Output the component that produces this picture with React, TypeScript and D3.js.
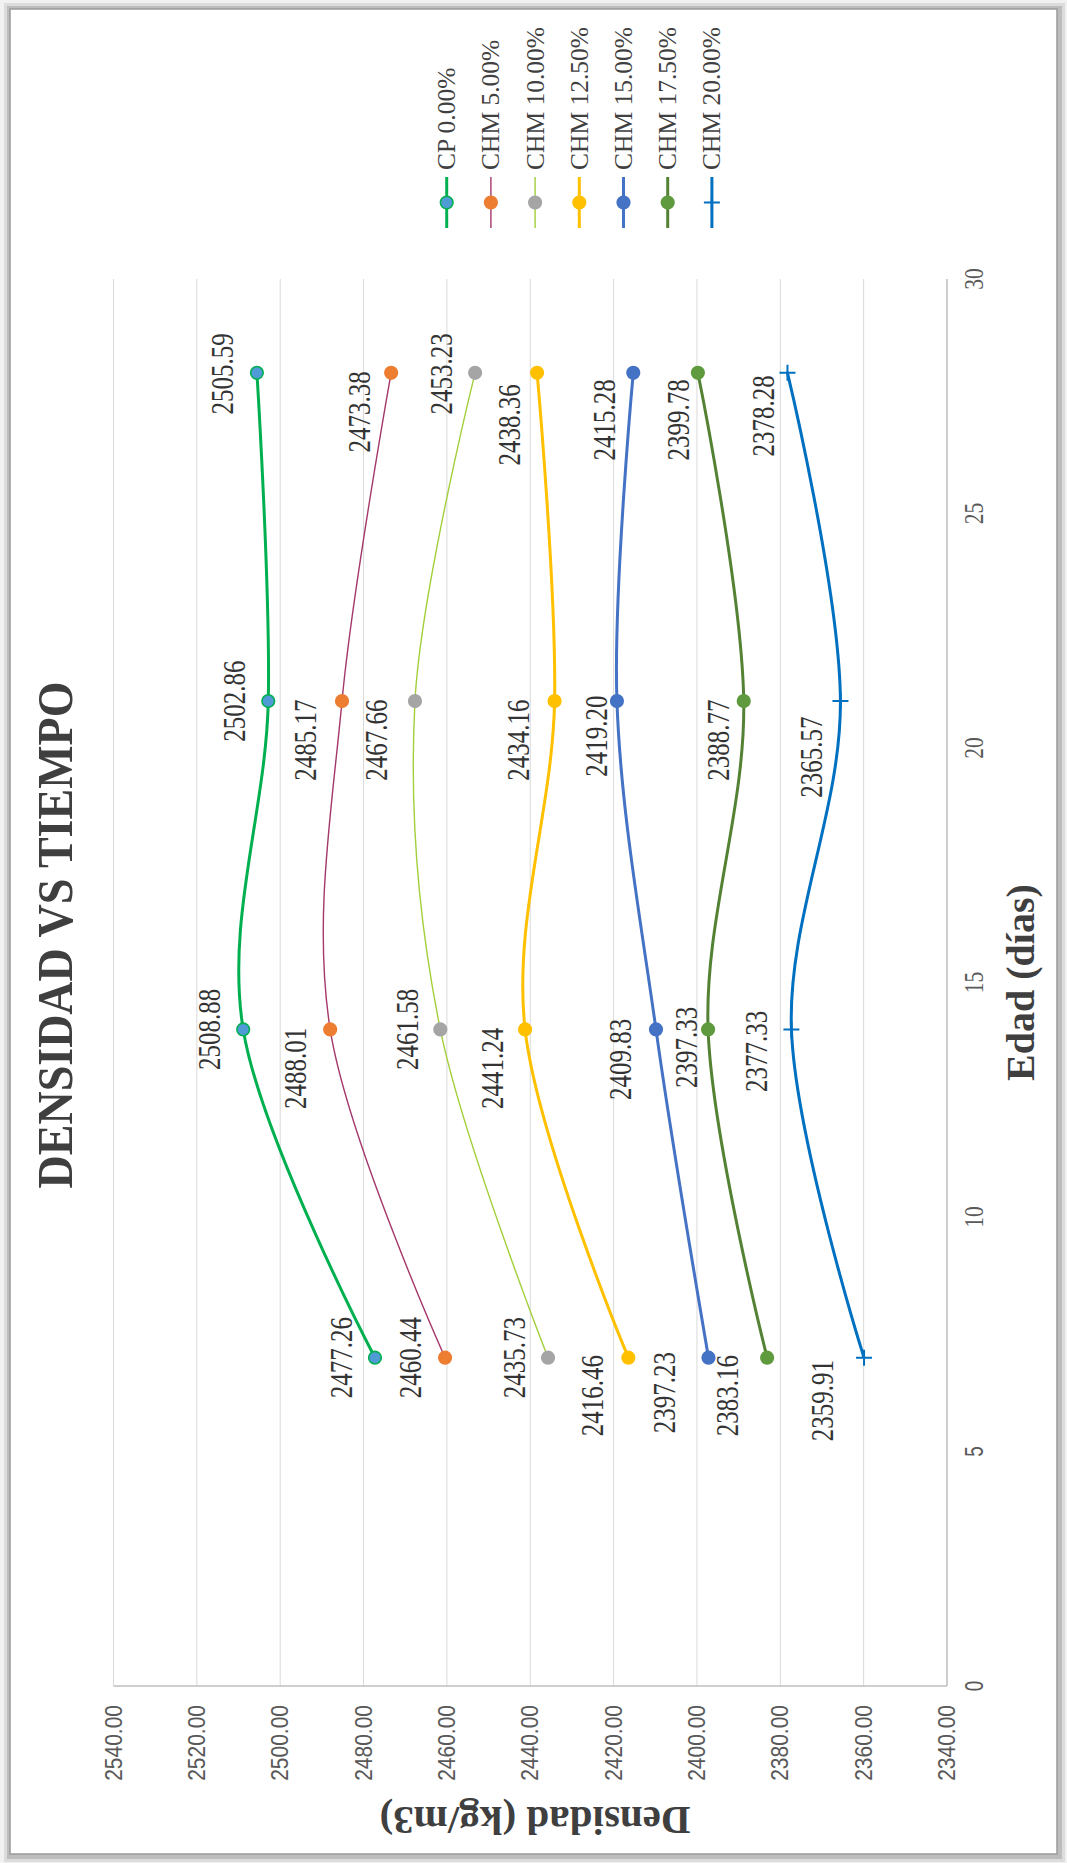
import React from "react";
import * as d3 from "d3";

// Edad (días) at which density was measured
const ages = [7, 14, 21, 28];

// Densidad (kg/m3) for each mix
const cp0 = [2477.26, 2508.88, 2502.86, 2505.59];
const chm5 = [2460.44, 2488.01, 2485.17, 2473.38];
const chm10 = [2435.73, 2461.58, 2467.66, 2453.23];
const chm125 = [2416.46, 2441.24, 2434.16, 2438.36];
const chm15 = [2397.23, 2409.83, 2419.2, 2415.28];
const chm175 = [2383.16, 2397.33, 2388.77, 2399.78];
const chm20 = [2359.91, 2377.33, 2365.57, 2378.28];

const seriesNames = [
  "CP 0.00%",
  "CHM 5.00%",
  "CHM 10.00%",
  "CHM 12.50%",
  "CHM 15.00%",
  "CHM 17.50%",
  "CHM 20.00%",
];
const seriesValues = [cp0, chm5, chm10, chm125, chm15, chm175, chm20];

const densityTicks = [2340, 2360, 2380, 2400, 2420, 2440, 2460, 2480, 2500, 2520, 2540];
const ageTicks = [0, 5, 10, 15, 20, 25, 30];

// styling per series
const lineColors = ["#00b050", "#a4376b", "#a3cf3a", "#ffc000", "#4472c4", "#548235", "#0070c0"];
const markerFills = ["#4f9bd6", "#ed7d31", "#a5a5a5", "#ffc000", "#4472c4", "#5f9a3e", "#0070c0"];
const markerStrokes = ["#00b050", "#ed7d31", "#a5a5a5", "#ffc000", "#4472c4", "#5f9a3e", "#0070c0"];
const lineWidths = [3, 1.4, 1.4, 3, 3, 3, 3];
const markerShapes = ["circle", "circle", "circle", "circle", "circle", "circle", "plus"];

// hand-placed data label offsets: [along age axis, along density axis] in px
const labelShift = [
  [[0, -34.5], [0, -34], [0, -34.5], [-1, -35]],
  [[0, -35.5], [-39, -35.5], [-39, -37.5], [-39, -32.5]],
  [[0, -34.5], [0, -33.5], [-39, -39.5], [-1, -34.5]],
  [[-38, -36.5], [-39, -33], [-39, -37], [-52, -28]],
  [[-35, -44.5], [-30, -36.5], [-35, -21.5], [-47, -29]],
  [[-38, -40.5], [-18, -22], [-39, -25.5], [-47, -20.5]],
  [[-43, -42], [-22, -36], [-56, -30], [-43, -24.5]],
];

const PAGE_W = 1067;
const PAGE_H = 1863;
// the chart is laid out landscape (PAGE_H wide, PAGE_W tall) and turned a quarter turn
const CHART_W = PAGE_H;

const SERIF = "'Liberation Serif', 'Times New Roman', serif";
const SANS = "'Liberation Sans', Arial, sans-serif";

type TProps = {
  x: number;
  y: number;
  k?: number;
  rot?: number;
  anchor?: "start" | "middle" | "end";
  size: number;
  family: string;
  weight?: string | number;
  fill?: string;
  children: React.ReactNode;
};

function T({ x, y, k = 1, rot = 0, anchor = "middle", size, family, weight = "normal", fill = "#404040", children }: TProps) {
  return (
    <text
      transform={`translate(${x},${y}) rotate(${rot}) scale(1,${k})`}
      textAnchor={anchor}
      dominantBaseline="central"
      fontSize={size}
      fontFamily={family}
      fontWeight={weight}
      fill={fill}
    >
      {children}
    </text>
  );
}

function Marker({ shape, x, y, fill, stroke }: { shape: string; x: number; y: number; fill: string; stroke: string }) {
  if (shape === "plus") {
    return <path d={`M${x - 8},${y}H${x + 8}M${x},${y - 8}V${y + 8}`} stroke={stroke} strokeWidth={2} fill="none" />;
  }
  return <circle cx={x} cy={y} r={6.3} fill={fill} stroke={stroke} strokeWidth={1.6} />;
}

export default function App() {
  const xScale = d3.scaleLinear().domain([0, 30]).range([177, 1584]);
  const yScale = d3.scaleLinear().domain([2340, 2540]).range([947, 113.5]);
  const fmt = d3.format(".2f");

  const line = d3
    .line<[number, number]>()
    .x((d) => xScale(d[0]))
    .y((d) => yScale(d[1]))
    .curve(d3.curveCardinal.tension(0));

  const legendV = (i: number) => 446.7 + i * 44.2;

  return (
    <svg
      width={PAGE_W}
      height={PAGE_H}
      style={{ position: "absolute", left: 0, top: 0, display: "block" }}
    >
      {/* outer frame with soft shadow */}
      <rect x={0} y={0} width={PAGE_W} height={PAGE_H} fill="#f1f1f1" />
      <rect x={4} y={3} width={PAGE_W - 6} height={PAGE_H - 4} fill="#dcdcdc" />
      <rect x={7} y={6} width={PAGE_W - 12} height={PAGE_H - 10} fill="#bdbdbd" />
      <rect x={10} y={9} width={PAGE_W - 20} height={PAGE_H - 18} fill="#ffffff" stroke="#9a9a9a" strokeWidth={1.5} />

      <g transform={`translate(0,${CHART_W}) rotate(-90)`}>
        {/* horizontal gridlines */}
        {densityTicks.map((t) => (
          <line
            key={`g${t}`}
            x1={xScale(0)}
            x2={xScale(30)}
            y1={yScale(t)}
            y2={yScale(t)}
            stroke={t === 2340 ? "#bfbfbf" : "#d9d9d9"}
            strokeWidth={t === 2340 ? 1.5 : 1}
          />
        ))}
        {/* vertical axis line */}
        <line x1={xScale(0)} x2={xScale(0)} y1={yScale(2540)} y2={yScale(2340)} stroke="#bfbfbf" strokeWidth={1.5} />

        {/* density tick labels */}
        {densityTicks.map((t) => (
          <T key={`dl${t}`} x={158} y={yScale(t)} anchor="end" size={21} k={1.15} family={SANS} fill="#595959">
            {fmt(t)}
          </T>
        ))}

        {/* age tick labels */}
        {ageTicks.map((t) => (
          <T
            key={`al${t}`}
            x={xScale(t)}
            y={974}
            size={t < 10 ? 19 : 21.5}
            k={t < 10 ? 1.35 : 1.25}
            family={t < 10 ? SANS : SERIF}
            fill="#595959"
          >
            {t}
          </T>
        ))}

        {/* smoothed series lines */}
        {seriesValues.map((vals, i) => (
          <path
            key={`l${i}`}
            d={line(ages.map((a, j) => [a, vals[j]] as [number, number])) || ""}
            fill="none"
            stroke={lineColors[i]}
            strokeWidth={lineWidths[i]}
            strokeLinecap="round"
          />
        ))}

        {/* markers */}
        {seriesValues.map((vals, i) =>
          vals.map((v, j) => (
            <Marker
              key={`m${i}-${j}`}
              shape={markerShapes[i]}
              x={xScale(ages[j])}
              y={yScale(v)}
              fill={markerFills[i]}
              stroke={markerStrokes[i]}
            />
          ))
        )}

        {/* data labels */}
        {seriesValues.map((vals, i) =>
          vals.map((v, j) => (
            <T
              key={`v${i}-${j}`}
              x={xScale(ages[j]) + labelShift[i][j][0]}
              y={yScale(v) + labelShift[i][j][1]}
              size={25}
              k={1.3}
              family={SERIF}
              fill="#333333"
            >
              {fmt(v)}
            </T>
          ))
        )}

        {/* title */}
        <T x={928} y={55} size={46} k={1.09} family={SERIF} weight="bold" fill="#3f3f3f">
          DENSIDAD VS TIEMPO
        </T>

        {/* axis titles */}
        <T x={(xScale(0) + xScale(30)) / 2} y={1020} size={40} family={SERIF} weight="bold" fill="#3f3f3f">
          Edad (días)
        </T>
        <T x={42} y={535} rot={-90} size={41} family={SERIF} weight="bold" fill="#3f3f3f">
          Densidad (kg/m3)
        </T>

        {/* legend */}
        {seriesNames.map((name, i) => (
          <g key={`lg${i}`}>
            <line x1={1635} x2={1686} y1={legendV(i)} y2={legendV(i)} stroke={lineColors[i]} strokeWidth={lineWidths[i]} />
            <Marker shape={markerShapes[i]} x={1660.5} y={legendV(i)} fill={markerFills[i]} stroke={markerStrokes[i]} />
            <T x={1693} y={legendV(i)} anchor="start" size={25.5} family={SERIF} fill="#404040">
              {name}
            </T>
          </g>
        ))}
      </g>
    </svg>
  );
}
